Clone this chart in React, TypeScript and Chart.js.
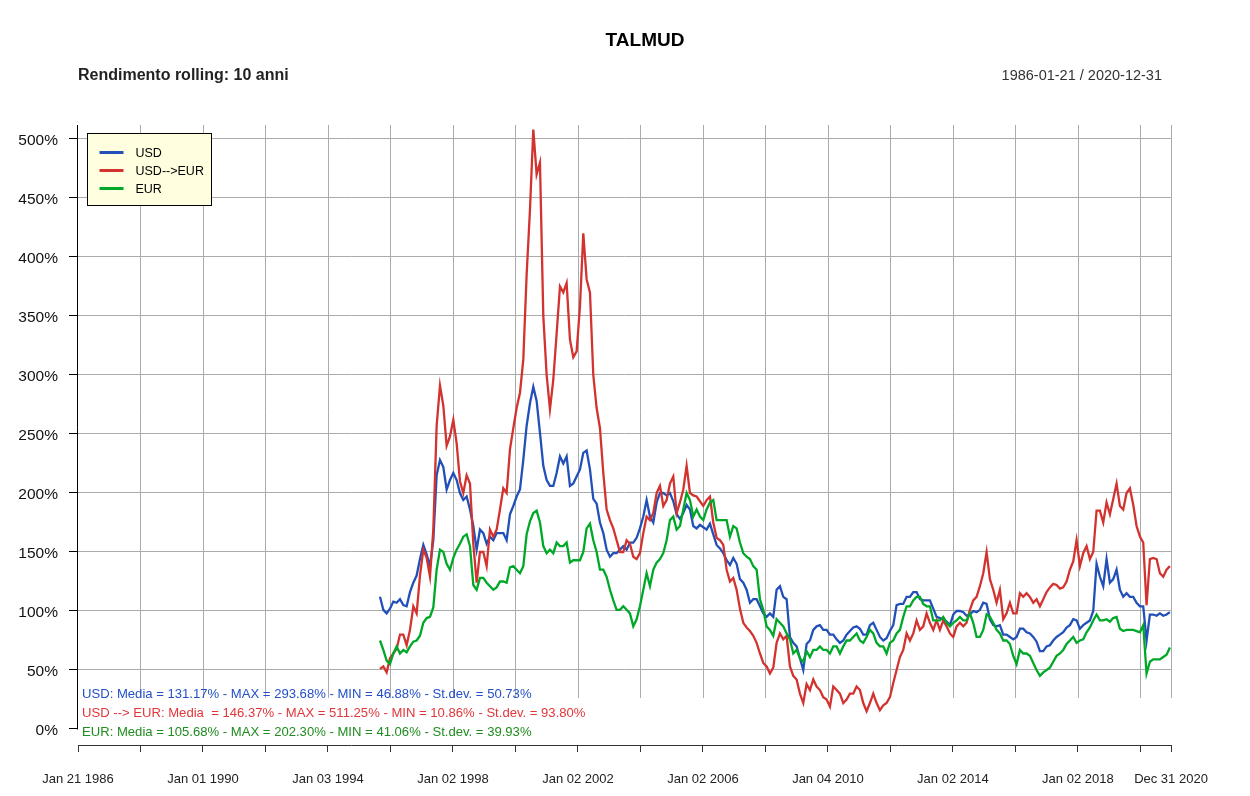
import React, { useEffect, useRef } from 'react';
import { Chart, registerables } from 'chart.js';

Chart.register(...registerables);

// ---- data (rolling 10y return, %), sampled every ~39 days from 1995-09 ----
const SERIES_START_YEAR = 1995.71;
const SAMPLE_STEP_YEARS = 0.10656;

const USD = [
  112, 101, 98, 102, 108, 107, 110, 105, 104, 116,
  124, 130, 144, 156, 148, 138, 160, 215, 228, 222,
  203, 211, 217, 211, 200, 194, 197, 186, 172, 152,
  169, 166, 157, 163, 160, 166, 166, 166, 160, 182,
  189, 197, 203, 228, 257, 276, 290, 278, 251, 223,
  211, 206, 206, 217, 231, 225, 231, 206, 208, 214,
  220, 234, 236, 220, 195, 191, 175, 166, 152, 146,
  149, 149, 152, 155, 152, 158, 158, 162, 170, 180,
  194, 180, 175, 192, 200, 200, 198, 200, 193, 182,
  178, 183, 190, 186, 172, 170, 173, 171, 169, 174,
  165, 156, 153, 149, 143, 139, 145, 140, 127, 124,
  118, 107, 110, 110, 104, 98, 95, 98, 95, 118,
  121, 112, 110, 78, 73, 70, 60, 50, 72, 75,
  84, 87, 88, 84, 84, 80, 80, 76, 73, 75,
  80, 83, 86, 87, 85, 80, 80, 88, 90, 84,
  78, 75, 77, 83, 88, 105, 106, 106, 112, 112,
  116, 116, 110, 109, 109, 109, 102, 95, 94, 93,
  91, 88, 97, 100, 100, 99, 96, 97, 100, 99,
  101, 107, 106, 93, 88, 87, 88, 80, 80, 78,
  76, 78, 85, 85, 82, 81, 78, 74, 66, 66,
  70, 71, 75, 78, 80, 82, 86, 88, 93, 92,
  85, 88, 90, 92, 100, 140, 129, 121, 144, 124,
  127, 135, 118, 112, 115, 112, 112, 107, 104, 104,
  75, 97, 97, 96, 98, 96, 97, 99,
];

const USD_EUR = [
  51, 53, 48, 60, 64, 68, 80, 80, 71, 84,
  104, 98, 130, 152, 145, 129, 169, 257, 291, 274,
  240, 248, 262, 242, 210, 200, 215, 208, 157, 124,
  150, 150, 138, 169, 163, 169, 186, 204, 200, 237,
  255, 272, 285, 313, 385, 440, 508, 470, 480, 350,
  300, 271, 296, 335, 375, 370, 378, 330, 315, 320,
  358, 420, 381, 370, 300, 272, 255, 217, 186, 177,
  170, 160, 150, 150, 160, 157, 146, 144, 149, 166,
  180, 177, 183, 200, 206, 189, 194, 208, 214, 183,
  192, 203, 223, 200, 198, 197, 193, 189, 194, 197,
  175, 162, 160, 156, 135, 125, 128, 118, 102, 90,
  86, 83, 79, 73, 64, 56, 53, 47, 52, 73,
  81, 76, 79, 53, 45, 42, 30, 22, 38, 33,
  42, 36, 33, 27, 25, 19, 36, 33, 30, 22,
  25, 30, 30, 36, 33, 22, 15, 22, 30, 22,
  16, 20, 22, 27, 39, 50, 61, 67, 81, 75,
  81, 92, 84, 87, 98, 90, 84, 92, 84, 92,
  87, 81, 78, 87, 90, 87, 90, 101, 109, 112,
  121, 132, 150, 127, 118, 107, 118, 93, 98, 107,
  98, 98, 115, 112, 115, 112, 107, 110, 104, 110,
  116, 120, 123, 122, 119, 120, 125, 135, 142, 160,
  138, 149, 155, 144, 150, 185, 185, 175, 192, 182,
  195, 208, 189, 186, 200, 204, 190, 172, 163, 158,
  105, 144, 145, 144, 132, 129, 135, 138,
];

const EUR = [
  75, 67, 58, 55, 64, 70, 64, 67, 65, 70,
  74, 75, 79, 90, 94, 95, 103, 135, 152, 150,
  140, 135, 145, 152, 157, 163, 165, 155, 122, 118,
  128, 128, 124, 121, 118, 120, 125, 125, 124, 137,
  138, 135, 132, 138, 165, 176, 183, 185, 175, 155,
  149, 152, 149, 158, 155, 155, 158, 141, 143, 143,
  143, 150, 170, 174, 160, 150, 135, 135, 129, 118,
  109, 101, 101, 104, 101, 98, 87, 93, 104, 118,
  132, 121, 135, 141, 144, 149, 160, 177, 180, 169,
  172, 186, 200, 194, 180, 186, 180, 177, 186, 192,
  194, 177, 177, 177, 177, 163, 172, 170, 158, 149,
  146, 144, 138, 135, 110, 101, 87, 84, 79, 93,
  90, 87, 81, 76, 64, 67, 60, 57, 66, 61,
  67, 67, 70, 67, 67, 64, 70, 70, 64, 70,
  75, 75, 78, 81, 75, 73, 78, 84, 81, 73,
  70, 70, 64, 73, 75, 81, 84, 95, 104, 104,
  109, 112, 112, 106, 104, 104, 92, 92, 92, 95,
  90, 87, 90, 92, 95, 92, 92, 98, 90, 78,
  78, 84, 97, 95, 90, 84, 81, 75, 75, 72,
  62, 55, 67, 64, 64, 62, 56, 50, 45, 48,
  50, 52, 57, 62, 64, 67, 72, 75, 78, 73,
  75, 76, 82, 86, 92, 97, 92, 92, 93, 91,
  94, 95, 85, 83, 84, 84, 84, 83, 82, 88,
  47, 57, 59, 59, 59, 61, 63, 69,
];

const SERIES_LABELS = ['USD', 'USD-->EUR', 'EUR'];
const SERIES_COLORS = ['#2150b8', '#d2332f', '#00a828'];

const X_MIN = 1986.055;
const X_MAX = 2021.0;
const X_TICK_YEARS = [
  1986.055, 1988.053, 1990.051, 1992.049, 1994.047, 1996.045, 1998.043, 2000.041, 2002.039,
  2004.037, 2006.035, 2008.033, 2010.031, 2012.029, 2014.027, 2016.025, 2018.023, 2020.021, 2021.0,
];
const X_TICK_LABELS = [
  'Jan 21 1986', '', 'Jan 01 1990', '', 'Jan 03 1994', '', 'Jan 02 1998', '', 'Jan 02 2002',
  '', 'Jan 02 2006', '', 'Jan 04 2010', '', 'Jan 02 2014', '', 'Jan 02 2018', '', 'Dec 31 2020',
];

const Y_MIN = -13.56;
const Y_MAX = 511.86;
const Y_TICKS = [0, 50, 100, 150, 200, 250, 300, 350, 400, 450, 500];
const V_GRID_FLOOR = 26.3;

const TITLE = 'TALMUD';
const SUBTITLE_LEFT = 'Rendimento rolling: 10 anni';
const SUBTITLE_RIGHT = '1986-01-21 / 2020-12-31';

const STATS_LINES = [
  'USD: Media = 131.17% - MAX = 293.68% - MIN = 46.88% - St.dev. = 50.73%',
  'USD --> EUR: Media  = 146.37% - MAX = 511.25% - MIN = 10.86% - St.dev. = 93.80%',
  'EUR: Media = 105.68% - MAX = 202.30% - MIN = 41.06% - St.dev. = 39.93%',
];
const STATS_COLORS = ['#2350c8', '#e2363a', '#1f8c1f'];

const FONT = '"Liberation Sans", Arial, Helvetica, sans-serif';
const GRID_COLOR = '#ababab';

const chromePlugin = {
  id: 'chrome',
  beforeDatasetsDraw(chart: any) {
    const { ctx, chartArea, scales } = chart;
    const xs = scales.x;
    const ys = scales.y;
    ctx.save();
    ctx.strokeStyle = GRID_COLOR;
    ctx.lineWidth = 1;
    const yBottom = Math.round(ys.getPixelForValue(V_GRID_FLOOR));
    X_TICK_YEARS.slice(1).forEach((v) => {
      const px = Math.round(xs.getPixelForValue(v)) + 0.5;
      ctx.beginPath();
      ctx.moveTo(px, chartArea.top);
      ctx.lineTo(px, yBottom);
      ctx.stroke();
    });
    // y axis line
    ctx.strokeStyle = '#000';
    const ax = Math.round(chartArea.left) - 0.5;
    ctx.beginPath();
    ctx.moveTo(ax, chartArea.top);
    ctx.lineTo(ax, Math.round(ys.getPixelForValue(0)) + 0.5);
    ctx.stroke();
    ctx.restore();
  },
  afterDatasetsDraw(chart: any) {
    const { ctx, chartArea } = chart;
    ctx.save();
    // legend
    const lx = chartArea.left + 9.5;
    const ly = chartArea.top + 8.5;
    const lw = 124;
    const lh = 72;
    ctx.fillStyle = '#ffffe0';
    ctx.fillRect(lx, ly, lw, lh);
    ctx.strokeStyle = '#000';
    ctx.lineWidth = 1;
    ctx.strokeRect(lx, ly, lw, lh);
    chart.data.datasets.forEach((ds: any, i: number) => {
      const yy = ly + 19 + i * 18;
      ctx.strokeStyle = ds.borderColor;
      ctx.lineWidth = 3;
      ctx.beginPath();
      ctx.moveTo(lx + 12, yy);
      ctx.lineTo(lx + 36, yy);
      ctx.stroke();
      ctx.fillStyle = '#000';
      ctx.font = `12.5px ${FONT}`;
      ctx.textAlign = 'left';
      ctx.textBaseline = 'middle';
      ctx.fillText(ds.label, lx + 48, yy + 1);
    });
    // statistics
    ctx.font = `13.1px ${FONT}`;
    ctx.textAlign = 'left';
    ctx.textBaseline = 'middle';
    STATS_LINES.forEach((t, i) => {
      ctx.fillStyle = STATS_COLORS[i];
      ctx.fillText(t, chartArea.left + 4, 694 + i * 19);
    });
    // titles
    ctx.fillStyle = '#000';
    ctx.font = `bold 19px ${FONT}`;
    ctx.textAlign = 'center';
    ctx.fillText(TITLE, 645, 41);
    ctx.font = `bold 16px ${FONT}`;
    ctx.textAlign = 'left';
    ctx.fillStyle = '#222';
    ctx.fillText(SUBTITLE_LEFT, chartArea.left, 76);
    ctx.font = `14.5px ${FONT}`;
    ctx.textAlign = 'right';
    ctx.fillStyle = '#333';
    ctx.fillText(SUBTITLE_RIGHT, 1162, 76);
    ctx.restore();
  },
};

export default function App() {
  const canvasRef = useRef<HTMLCanvasElement | null>(null);

  useEffect(() => {
    const canvas = canvasRef.current;
    if (!canvas) return;
    const dates = USD.map((_, i) => SERIES_START_YEAR + i * SAMPLE_STEP_YEARS);
    const seriesValues = [USD, USD_EUR, EUR];
    const datasets = seriesValues.map((vals, k) => ({
      label: SERIES_LABELS[k],
      data: vals.map((v, i) => ({ x: dates[i], y: v })),
      borderColor: SERIES_COLORS[k],
      backgroundColor: SERIES_COLORS[k],
      borderWidth: 2.3,
      pointRadius: 0,
      tension: 0,
      fill: false,
      order: 3 - k,
    }));

    const chart = new Chart(canvas, {
      type: 'line',
      data: { datasets },
      options: {
        animation: false,
        responsive: false,
        devicePixelRatio: 1,
        layout: { padding: { left: 0, top: 125, right: 79, bottom: 0 } },
        plugins: {
          legend: { display: false },
          tooltip: { enabled: false },
          title: { display: false },
        },
        scales: {
          x: {
            type: 'linear',
            min: X_MIN,
            max: X_MAX,
            afterBuildTicks: (s: any) => {
              s.ticks = X_TICK_YEARS.map((v) => ({ value: v }));
            },
            afterFit: (s: any) => {
              s.height = 51;
            },
            border: { display: true, color: '#333', width: 1 },
            grid: { drawOnChartArea: false, drawTicks: true, tickLength: 7, tickColor: '#333' },
            ticks: {
              autoSkip: false,
              maxRotation: 0,
              minRotation: 0,
              padding: 20,
              color: '#222',
              font: { family: FONT, size: 13 },
              callback: (value: any) => {
                let best = 0;
                X_TICK_YEARS.forEach((t, i) => {
                  if (Math.abs(t - value) < Math.abs(X_TICK_YEARS[best] - value)) best = i;
                });
                return X_TICK_LABELS[best];
              },
            },
          },
          y: {
            type: 'linear',
            min: Y_MIN,
            max: Y_MAX,
            afterBuildTicks: (s: any) => {
              s.ticks = Y_TICKS.map((v) => ({ value: v }));
            },
            afterFit: (s: any) => {
              s.width = 78;
            },
            border: { display: false },
            grid: {
              drawOnChartArea: true,
              drawTicks: true,
              tickLength: 9,
              tickColor: '#000',
              color: (c: any) => (c.tick && c.tick.value === 0 ? 'rgba(0,0,0,0)' : GRID_COLOR),
              lineWidth: 1,
            },
            ticks: {
              padding: 11,
              labelOffset: 2,
              color: '#111',
              font: { family: FONT, size: 15.5 },
              callback: (v: any) => `${v}%`,
            },
          },
        },
      },
      plugins: [chromePlugin],
    });
    return () => chart.destroy();
  }, []);

  return (
    <div style={{ position: 'absolute', left: 0, top: 0, width: 1250, height: 796, background: '#fff' }}>
      <canvas ref={canvasRef} width={1250} height={796} style={{ display: 'block', width: 1250, height: 796 }} />
    </div>
  );
}
